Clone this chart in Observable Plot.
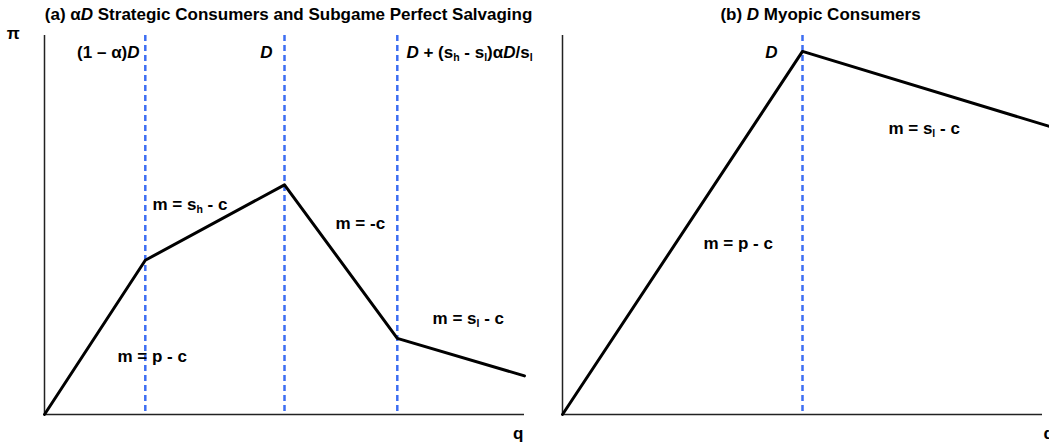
<!DOCTYPE html>
<html><head><meta charset="utf-8">
<script src="https://cdn.jsdelivr.net/npm/d3@7"></script>
<script src="https://cdn.jsdelivr.net/npm/@observablehq/plot@0.6"></script>
<style>
html,body{margin:0;padding:0;background:#fff;overflow:hidden;}
#row{display:flex;width:1049px;height:444px;}
</style></head><body><div id="row"></div>
<script>
// ---- data (q in units of D, profit pi in arbitrary units) ----
const leftQ = [0, 0.42, 1, 1.47, 2.0];
const leftPi = [0, 4.07, 6.06, 2.01, 1.02];
const leftCuts = [0.42, 1, 1.47];
const leftCutLabels = ["(1 – α)*D*", "*D*", "*D* + (s_h - s_l)α*D*/s_l"];
const leftCutLabelQ = [0.396, 0.95, 1.508];
const leftCutAnchor = ["end", "end", "start"];
const leftSlopeLabels = ["m = p - c", "m = s_h - c", "m = -c", "m = s_l - c"];
const leftSlopeQ = [0.304, 0.45, 1.2125, 1.617];
const leftSlopePi = [1.52, 5.53, 5.04, 2.52];
const leftTitle = "(a) α*D* Strategic Consumers and Subgame Perfect Salvaging";

const rightQ = [0, 1, 2.03];
const rightPi = [0, 9.58, 7.6];
const rightCuts = [1];
const rightCutLabels = ["*D*"];
const rightCutLabelQ = [0.896];
const rightCutAnchor = ["end"];
const rightSlopeLabels = ["m = p - c", "m = s_l - c"];
const rightSlopeQ = [0.5875, 1.358];
const rightSlopePi = [4.5, 7.54];
const rightTitle = "(b) *D* Myopic Consumers";

const axisYLabel = "π";
const axisXLabel = "q";

const BLUE = "#3d6ef2";
const FONT = 17;

function panel(o) {
  const pts = o.q.map((d, i) => ({q: d, pi: o.pi[i]}));
  const marks = [
    Plot.ruleX(o.cuts, {stroke: BLUE, strokeWidth: 2.5, strokeDasharray: "6,4"}),
    Plot.ruleY([0], {stroke: "#222", strokeWidth: 1.5}),
    Plot.ruleX([0], {stroke: "#222", strokeWidth: 1.5}),
    Plot.line(pts, {x: "q", y: "pi", stroke: "#000", strokeWidth: 3}),
    Plot.text([o.title], {x: o.titleQ, y: 10.55, text: d => d, fontSize: FONT, fontWeight: "bold", textAnchor: "middle"}),
    Plot.text(o.slopeLabels, {x: (d, i) => o.slopeQ[i], y: (d, i) => o.slopePi[i], text: d => d, fontSize: FONT, fontWeight: "bold", textAnchor: "start"}),
    ...o.cutLabels.map((t, i) => Plot.text([t], {x: o.cutQ[i], y: 9.55, text: d => d, fontSize: FONT, fontWeight: "bold", textAnchor: o.cutAnchor[i]})),
    Plot.text([axisXLabel], {x: 2, y: -0.5, text: d => d, fontSize: FONT, fontWeight: "bold", textAnchor: o.qAnchor, dx: o.qAnchor === "end" ? -1 : 1})
  ];
  if (o.showPi) marks.push(Plot.text([axisYLabel], {x: -0.13, y: 10.05, text: d => d, fontSize: FONT, fontWeight: "bold"}));
  return Plot.plot({
    width: o.width, height: 444,
    marginLeft: o.marginLeft, marginRight: o.marginRight, marginTop: 35, marginBottom: 30,
    x: {domain: [0, 2], axis: null},
    y: {domain: [0, 10], axis: null},
    style: {fontFamily: "'Liberation Sans', Arial, sans-serif", background: "white", color: "#000"},
    marks
  });
}

function rich(svg) {
  svg.querySelectorAll("text").forEach(t => {
    const s = t.textContent;
    if (!/[*_]/.test(s)) return;
    while (t.firstChild) t.removeChild(t.firstChild);
    const re = /\*([^*]+)\*|_(\w)|([^*_]+)/g;
    let m, shifted = false;
    while ((m = re.exec(s))) {
      const ts = document.createElementNS("http://www.w3.org/2000/svg", "tspan");
      if (m[1]) { ts.textContent = m[1]; ts.setAttribute("font-style", "italic"); }
      else if (m[2]) { ts.textContent = m[2]; ts.setAttribute("font-size", "10.5"); ts.setAttribute("dy", "3"); }
      else { ts.textContent = m[3]; }
      if (!m[2] && shifted) { ts.setAttribute("dy", "-3"); shifted = false; }
      if (m[2]) shifted = true;
      t.appendChild(ts);
    }
  });
}

const left = panel({width: 545, marginLeft: 44, marginRight: 21, q: leftQ, pi: leftPi, cuts: leftCuts,
  cutLabels: leftCutLabels, cutQ: leftCutLabelQ, cutAnchor: leftCutAnchor,
  slopeLabels: leftSlopeLabels, slopeQ: leftSlopeQ, slopePi: leftSlopePi,
  title: leftTitle, titleQ: 1.017, qAnchor: "end", showPi: true});
const right = panel({width: 504, marginLeft: 17, marginRight: 7, q: rightQ, pi: rightPi, cuts: rightCuts,
  cutLabels: rightCutLabels, cutQ: rightCutLabelQ, cutAnchor: rightCutAnchor,
  slopeLabels: rightSlopeLabels, slopeQ: rightSlopeQ, slopePi: rightSlopePi,
  title: rightTitle, titleQ: 1.075, qAnchor: "start", showPi: false});
rich(left); rich(right);
const row = document.getElementById("row");
row.appendChild(left); row.appendChild(right);
</script></body></html>
